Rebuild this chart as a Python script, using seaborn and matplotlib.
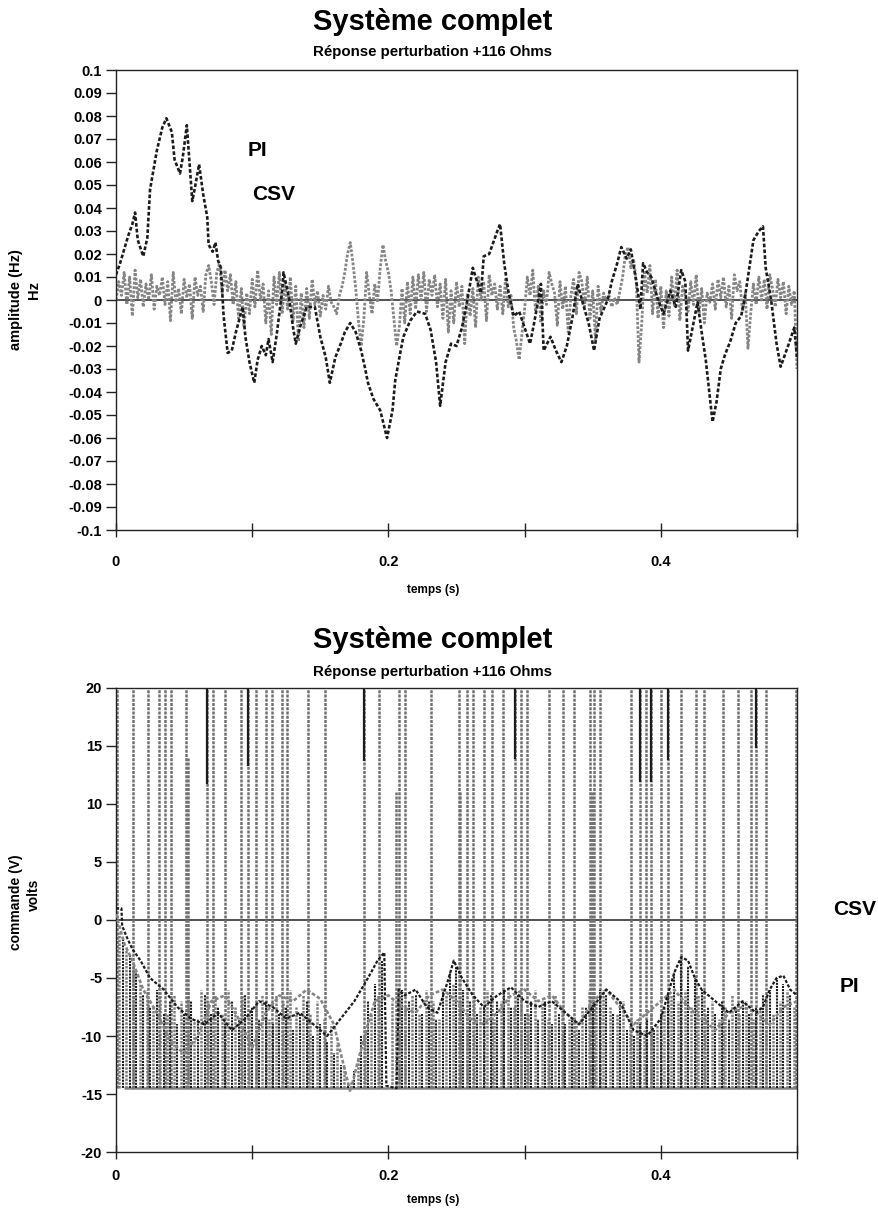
import numpy as np
import pandas as pd
import matplotlib
matplotlib.use("Agg")
import matplotlib.pyplot as plt
import seaborn as sns

# ---------------- Upper plot: frequency deviation, in mHz ----------------
# PI controller response
pi_t = [0.000, 0.003, 0.005, 0.009, 0.012, 0.014, 0.016, 0.020, 0.023, 0.025,
        0.030, 0.034, 0.037, 0.041, 0.043, 0.047, 0.049, 0.052, 0.056, 0.058,
        0.061, 0.064, 0.067, 0.068, 0.071, 0.073, 0.075, 0.077, 0.079, 0.082,
        0.085, 0.088, 0.093, 0.095, 0.098, 0.1015, 0.104, 0.107, 0.110, 0.112,
        0.115, 0.118, 0.122, 0.123, 0.127, 0.130, 0.132, 0.135, 0.140, 0.146,
        0.150, 0.154, 0.157, 0.161, 0.165, 0.168, 0.172, 0.176, 0.180, 0.183,
        0.185, 0.189, 0.194, 0.199, 0.203, 0.205, 0.209, 0.211, 0.216, 0.221,
        0.227, 0.231, 0.235, 0.238, 0.242, 0.246, 0.250, 0.254, 0.258, 0.262,
        0.264, 0.268, 0.270, 0.274, 0.277, 0.280, 0.282, 0.285, 0.288, 0.292,
        0.296, 0.300, 0.304, 0.307, 0.310, 0.312, 0.314, 0.319, 0.323, 0.327,
        0.331, 0.335, 0.339, 0.343, 0.347, 0.351, 0.355, 0.358, 0.361, 0.364,
        0.368, 0.371, 0.375, 0.378, 0.382, 0.385, 0.387, 0.390, 0.393, 0.398,
        0.402, 0.407, 0.411, 0.415, 0.418, 0.420, 0.424, 0.427, 0.430, 0.433,
        0.436, 0.438, 0.441, 0.444, 0.447, 0.451, 0.455, 0.459, 0.462, 0.464,
        0.468, 0.472, 0.475, 0.477, 0.481, 0.485, 0.488, 0.491, 0.494, 0.498,
        0.500]
pi_mhz = [11, 16, 20, 28, 33, 38, 26, 19, 27, 48,
          65, 75, 79, 73, 61, 55, 62, 76, 43, 49,
          59, 46, 36, 24, 21, 25, 17, 14, -7, -23,
          -22, -14, -3, -16, -27, -36, -26, -20, -24, -17,
          -27, -15, 4, 12, 1, -12, -19, -12, -3, -3,
          -16, -25, -36, -25, -19, -14, -10, -14, -22, -30,
          -36, -43, -48, -60, -48, -35, -22, -16, -9, -5,
          -6, -13, -27, -46, -27, -19, -20, -12, 0, 14,
          10, 3, 19, 20, 25, 30, 33, 16, 4, -7,
          -5, -12, -19, -10, 0, 7, -22, -16, -22, -27,
          -20, -8, 7, -2, -10, -22, -8, -4, 0, 8,
          16, 23, 18, 22, 8, -4, 16, 12, 10, 0,
          -6, 4, -3, 13, 8, -22, -10, -1, -14, -26,
          -42, -53, -44, -30, -24, -18, -10, -7, 2, 10,
          26, 30, 32, 14, 0, -19, -29, -24, -19, -12,
          -25]

# sliding-mode (CSV) response, sampled every 2 ms
csv_dt = 0.002
csv_mhz = [0, 8, 2, 12, -2, 10, -7, 13, 1, 9,
           -3, 7, 0, 11, -4, 6, 2, 10, -2, 8,
           -9, 12, -1, 5, -6, 9, 1, 7, -8, 10,
           2, 6, -5, 11, 15, 8, -2, 12, 16, 3,
           13, 4, 11, -2, 8, -8, 5, -12, 3, -6,
           9, -3, 13, 0, 7, -10, 4, -15, 10, -2,
           12, -6, 8, -4, 10, -9, 6, -18, 3, -12,
           5, -8, 9, -2, 4, -7, 2, -4, 6, -1,
           -3, -6, 2, 6, 12, 20, 25, 16, 5, -9,
           -20, -8, 12, 2, -6, 7, -1, 14, 24, 17,
           12, 4, -8, -20, -12, 5, -10, 8, -6, 10,
           -4, 11, 0, 12, -5, 9, 2, 11, -3, 7,
           -8, 9, -14, 4, -10, 8, -3, 6, -19, 3,
           -7, 5, -12, 10, 0, 8, -9, 11, 2, 7,
           -4, 6, -6, 9, -3, 2, -12, -18, -26, -15,
           -4, 10, 2, 13, -5, 6, -10, 4, -2, 12,
           7, 3, -11, 8, -4, 6, -14, 2, 9, -6,
           12, 8, -3, 10, -8, 4, -17, 6, -5, 3,
           0, 2, -3, 1, -2, 4, 10, 20, 23, 14,
           18, 8, -27, -10, 12, 3, 15, -6, 9, -8,
           6, -12, 4, -7, 10, -3, 13, -9, 6, 2,
           -5, 8, -2, 11, -6, 5, -10, 3, -1, 7,
           -4, 9, 1, 10, -3, 6, -8, 11, 4, 8,
           -5, 3, -21, -6, 7, -2, 10, 0, 9, -4,
           11, 5, -3, 9, 1, 8, -6, 6, -2, 4,
           -30]

# ---------------- Lower plot: control signal, in volts ----------------
u_sat = -14.5  # lower saturation of the actuator

# PI command
pi_cmd_t = [0.000, 0.004, 0.0045, 0.008, 0.012, 0.018, 0.025, 0.035, 0.045, 0.055,
            0.065, 0.075, 0.085, 0.095, 0.105, 0.115, 0.125, 0.135, 0.145, 0.155,
            0.165, 0.175, 0.185, 0.192, 0.197, 0.1985, 0.206, 0.2075, 0.212, 0.220,
            0.228, 0.236, 0.243, 0.248, 0.254, 0.262, 0.270, 0.280, 0.290, 0.300,
            0.310, 0.320, 0.330, 0.340, 0.350, 0.360, 0.370, 0.380, 0.390, 0.400,
            0.405, 0.410, 0.415, 0.420, 0.425, 0.430, 0.440, 0.450, 0.460, 0.470,
            0.475, 0.480, 0.485, 0.490, 0.495, 0.500]
pi_cmd = [1.0, 1.0, -0.5, -1.5, -2.5, -3.5, -5.0, -6.0, -7.5, -8.5,
          -9.0, -8.0, -9.5, -8.5, -7.0, -7.5, -8.5, -8.0, -9.0, -10.0,
          -8.5, -7.0, -5.0, -3.5, -2.8, -14.3, -14.5, -6.0, -6.5, -6.0,
          -7.5, -8.0, -5.5, -3.5, -5.0, -6.5, -7.5, -6.5, -5.8, -7.0,
          -7.5, -7.0, -8.0, -9.0, -7.5, -6.0, -7.0, -9.5, -10.0, -8.5,
          -6.5, -4.5, -3.2, -3.5, -5.0, -6.0, -7.0, -8.0, -7.0, -8.0,
          -7.5, -6.0, -5.0, -4.8, -6.0, -6.5]

# equivalent part of the sliding-mode command
csv_eq_t = [0.000, 0.006, 0.012, 0.020, 0.030, 0.040, 0.050, 0.060, 0.070, 0.080,
            0.090, 0.100, 0.110, 0.120, 0.130, 0.140, 0.150, 0.160, 0.165, 0.172,
            0.178, 0.185, 0.190, 0.200, 0.210, 0.220, 0.230, 0.240, 0.250, 0.260,
            0.270, 0.280, 0.290, 0.300, 0.310, 0.320, 0.330, 0.340, 0.350, 0.360,
            0.370, 0.380, 0.390, 0.400, 0.410, 0.420, 0.430, 0.440, 0.450, 0.460,
            0.470, 0.480, 0.490, 0.500]
csv_eq = [0.5, -2.0, -3.5, -6.0, -8.0, -10.5, -11.5, -10.0, -7.0, -6.5,
          -8.5, -11.0, -8.0, -6.5, -7.0, -6.0, -6.8, -9.0, -11.5, -14.8,
          -12.0, -9.0, -7.0, -6.5, -7.5, -8.0, -6.5, -6.0, -7.0, -8.5,
          -9.0, -8.0, -6.5, -6.0, -7.0, -6.5, -8.0, -9.0, -7.0, -6.0,
          -7.5, -9.0, -8.0, -7.0, -6.0, -7.5, -8.5, -9.5, -8.0, -7.5,
          -8.0, -9.0, -7.5, -7.0]

# switching pulses of the sliding-mode command (top value of each pulse)
spike_t = [0.001, 0.0125, 0.0235, 0.0316, 0.036, 0.0404, 0.0515, 0.053, 0.067, 0.0713,
           0.080, 0.092, 0.097, 0.103, 0.110, 0.1147, 0.122, 0.1257, 0.141, 0.1537,
           0.182, 0.193, 0.2055, 0.208, 0.2125, 0.231, 0.2515, 0.2525, 0.258, 0.2618,
           0.270, 0.2757, 0.284, 0.293, 0.297, 0.302, 0.3176, 0.328, 0.336, 0.348,
           0.3495, 0.351, 0.355, 0.378, 0.385, 0.389, 0.3926, 0.400, 0.405, 0.4147,
           0.4257, 0.4316, 0.4456, 0.457, 0.466, 0.470, 0.477, 0.4995]
spike_top = [25, 25, 25, 25, 25, 25, 25, 14, 25, 25,
             25, 25, 25, 25, 25, 25, 25, 25, 25, 25,
             25, 25, 11, 25, 25, 25, 25, 11, 25, 25,
             25, 25, 25, 25, 25, 25, 25, 25, 25, 25,
             11, 25, 25, 25, 25, 25, 25, 25, 25, 25,
             25, 25, 25, 25, 25, 25, 25, 25]

# saturated stretches of the PI command near the upper limit (lower end)
pi_sat_t = [0.067, 0.097, 0.182, 0.293, 0.385, 0.3926, 0.405, 0.470]
pi_sat_low = [11.7, 13.3, 13.7, 13.9, 11.9, 11.9, 13.8, 14.8]

# fast switching of the sliding-mode command below the equivalent level
chatter_t = np.arange(0.0025, 0.5, 0.005)
chatter_top = [-1.0, -2.5, -4.0, -5.5, -6.0, -7.5, -6.0, -8.0, -6.5, -7.0,
               -6.0, -8.5, -6.0, -7.0, -6.5, -8.0, -6.0, -7.5, -6.5, -8.0,
               -7.0, -6.5, -8.5, -6.5, -7.0, -6.0, -7.5, -6.5, -8.0, -7.0,
               -8.5, -9.0, -10.5, -12.5, -14.0, -12.0, -9.5, -8.0, -6.5, -14.5,
               -7.0, -6.0, -7.5, -6.5, -8.0, -6.0, -7.0, -8.5, -6.5, -5.5,
               -7.0, -8.0, -6.5, -7.5, -6.0, -8.5, -7.0, -6.0, -7.5, -6.5,
               -8.0, -6.0, -7.0, -8.5, -6.5, -7.5, -8.5, -9.0, -7.5, -6.0,
               -7.0, -6.0, -7.5, -8.0, -7.0, -9.0, -8.5, -9.5, -8.0, -9.0,
               -7.5, -6.5, -7.0, -6.0, -7.5, -6.5, -8.0, -7.0, -8.5, -7.5,
               -6.5, -8.0, -7.0, -8.5, -7.5, -6.5, -8.0, -7.0, -6.0, -7.5]

# fast switching of the PI command (every 5 ms)
pi_chat_t = np.arange(1, 100) * 0.005
pi_chat_top = [-1.5, -3.0, -4.5, -6.5, -7.5, -6.0, -8.0, -7.0, -9.0, -8.0,
               -7.0, -8.5, -6.5, -8.0, -7.5, -9.0, -7.0, -8.5, -6.5, -7.5,
               -8.5, -7.0, -9.0, -8.0, -7.5, -9.5, -8.0, -7.0, -10.0, -9.0,
               -10.5, -11.5, -12.5, -14.0, -13.0, -10.0, -7.0, -5.5, -3.5, -14.5,
               -14.5, -6.0, -7.0, -6.5, -8.0, -7.0, -8.5, -6.0, -4.5, -4.0,
               -6.0, -7.0, -8.0, -7.5, -6.5, -7.0, -6.0, -7.5, -6.5, -8.0,
               -7.0, -8.5, -7.0, -9.0, -8.0, -9.0, -8.5, -9.5, -7.5, -7.0,
               -6.0, -6.5, -8.0, -7.0, -9.5, -10.0, -9.0, -8.5, -9.5, -8.0,
               -6.5, -4.5, -3.5, -4.0, -5.0, -6.0, -7.5, -8.0, -7.0, -8.5,
               -7.5, -7.0, -8.0, -7.5, -6.5, -6.0, -5.0, -5.5, -6.5]

time_ticks = [0.0, 0.1, 0.2, 0.3, 0.4, 0.5]
time_labels = ["0", "", "0.2", "", "0.4", ""]
freq_ticks = [round(0.01 * k, 2) for k in range(-10, 11)]
volt_ticks = [-20, -15, -10, -5, 0, 5, 10, 15, 20]

# ---------------------------------------------------------------------
sns.set_theme(style="ticks")
plt.rcParams["font.family"] = ["Liberation Sans", "DejaVu Sans"]
plt.rcParams["font.weight"] = "bold"
plt.rcParams["axes.unicode_minus"] = False
plt.rcParams["text.color"] = "black"
plt.rcParams["axes.labelcolor"] = "black"

DARK = "#1b1b1b"
GREY = "#858585"
W, H = 879, 1216

fig = plt.figure(figsize=(W / 100, H / 100), dpi=100)
fig.patch.set_facecolor("white")
ax1 = fig.add_axes([116 / W, 1 - 530 / H, 681 / W, 460 / H])
ax2 = fig.add_axes([116 / W, 1 - 1152 / H, 681 / W, 464 / H])

top = pd.DataFrame({"t": np.arange(len(csv_mhz)) * csv_dt,
                    "v": np.array(csv_mhz) / 1000.0})
pit = pd.DataFrame({"t": pi_t, "v": np.array(pi_mhz) / 1000.0})

ax1.axhline(0, color="#333333", lw=1.2, zorder=1)
sns.lineplot(data=top, x="t", y="v", ax=ax1, color=GREY, lw=2.0,
             estimator=None, sort=False, zorder=2)
sns.lineplot(data=pit, x="t", y="v", ax=ax1, color=DARK, lw=1.9,
             estimator=None, sort=False, zorder=3)
ax1.lines[1].set_linestyle((0, (1.0, 0.6)))
ax1.lines[2].set_linestyle((0, (1.4, 0.8)))

ax1.set_xlim(0, 0.5)
ax1.set_ylim(-0.1, 0.1)
ax1.set_yticks(freq_ticks)
ax1.set_yticklabels([("%.2f" % v).rstrip("0").rstrip(".")
                     if abs(v) > 1e-9 else "0" for v in freq_ticks])
ax1.text(0.104, 0.065, "PI", fontsize=15, fontweight="bold", ha="center", va="center")
ax1.text(0.116, 0.046, "CSV", fontsize=15, fontweight="bold", ha="center", va="center")

# lower plot
ax2.axhline(0, color="#333333", lw=1.2, zorder=1)
ax2.hlines(u_sat, 0.006, 0.5, color=GREY, lw=1.8, zorder=2)
ax2.vlines(chatter_t, u_sat, chatter_top, colors="#7d7d7d", lw=1.8,
           linestyles=[(0, (1.0, 0.5))], zorder=2)
ax2.vlines(pi_chat_t, u_sat, pi_chat_top, colors=DARK, lw=1.5,
           linestyles=[(0, (1.0, 0.5))], zorder=3)
ax2.vlines(spike_t, u_sat, spike_top, colors="#707070", lw=1.8,
           linestyles=[(0, (1.2, 0.5))], zorder=2)
ax2.vlines(pi_sat_t, pi_sat_low, 20, colors=DARK, lw=1.6, zorder=3)
sns.lineplot(x=csv_eq_t, y=csv_eq, ax=ax2, color=GREY, lw=1.9,
             estimator=None, sort=False, zorder=3)
sns.lineplot(x=pi_cmd_t, y=pi_cmd, ax=ax2, color=DARK, lw=1.6,
             estimator=None, sort=False, zorder=4)
for ln in ax2.lines[-2:]:
    ln.set_linestyle((0, (1.4, 0.8)))

ax2.set_xlim(0, 0.5)
ax2.set_ylim(-20, 20)
ax2.set_yticks(volt_ticks)
ax2.set_yticklabels([str(v) for v in volt_ticks])
ax2.text(1.085, 0.523, "CSV", transform=ax2.transAxes, fontsize=15,
         fontweight="bold", ha="center", va="center")
ax2.text(1.077, 0.357, "PI", transform=ax2.transAxes, fontsize=15,
         fontweight="bold", ha="center", va="center")

for ax, xpad in ((ax1, 13), (ax2, 7)):
    ax.set_xticks(time_ticks)
    ax.set_xticklabels(time_labels)
    ax.set_xlabel("")
    ax.set_ylabel("")
    for s in ax.spines.values():
        s.set_visible(True)
        s.set_color("#222222")
        s.set_linewidth(1.0)
    ax.tick_params(axis="y", direction="out", length=7, width=1,
                   labelsize=10.5, pad=3, colors="#222222", labelcolor="black")
    ax.tick_params(axis="x", direction="inout", length=10, width=1,
                   labelsize=10.5, pad=xpad, colors="#222222", labelcolor="black")
    ax.set_facecolor("white")
    ax.grid(False)

# titles and axis labels
cx = 433 / W
for y_title, y_sub in ((22, 52), (640, 672)):
    fig.text(cx, 1 - y_title / H, "Système complet", fontsize=21,
             fontweight="bold", ha="center", va="center")
    fig.text(cx, 1 - y_sub / H, "Réponse perturbation +116 Ohms", fontsize=10.8,
             fontweight="bold", ha="center", va="center")
fig.text(cx, 1 - 590 / H, "temps (s)", fontsize=8.5, fontweight="bold",
         ha="center", va="center")
fig.text(cx, 1 - 1200 / H, "temps (s)", fontsize=8.5, fontweight="bold",
         ha="center", va="center")
fig.text(16 / W, 1 - 300 / H, "amplitude (Hz)", rotation=90, fontsize=10.5,
         fontweight="bold", ha="center", va="center")
fig.text(34 / W, 1 - 290 / H, "Hz", rotation=90, fontsize=10.5,
         fontweight="bold", ha="center", va="center")
fig.text(16 / W, 1 - 902 / H, "commande (V)", rotation=90, fontsize=10,
         fontweight="bold", ha="center", va="center")
fig.text(34 / W, 1 - 895 / H, "volts", rotation=90, fontsize=10,
         fontweight="bold", ha="center", va="center")

fig.savefig("out.png", dpi=100, facecolor="white")
